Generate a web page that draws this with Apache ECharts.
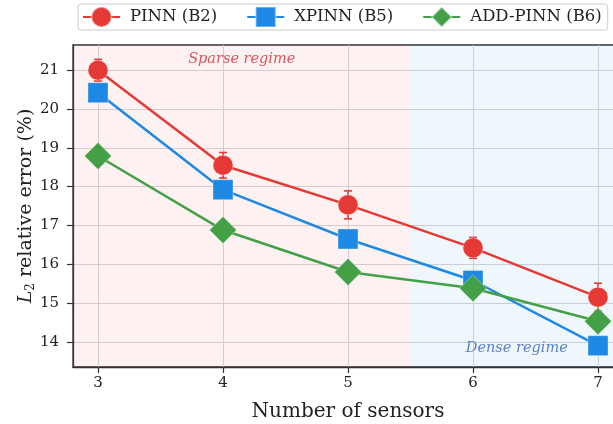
<!DOCTYPE html>
<html>
<head>
<meta charset="utf-8">
<script src="https://cdn.jsdelivr.net/npm/echarts@6/dist/echarts.min.js"></script>
<style>html,body{margin:0;padding:0;background:#fff}#c{width:613px;height:424px}</style>
</head>
<body>
<div id="c"></div>
<script>
var sensors = [3, 4, 5, 6, 7];
var pinn = [21.0, 18.55, 17.53, 16.42, 15.15];
var pinnErr = [0.28, 0.33, 0.36, 0.27, 0.36];
var xpinn = [20.42, 17.92, 16.65, 15.58, 13.9];
var addpinn = [18.79, 16.88, 15.80, 15.38, 14.53];
var xTicks = [3, 4, 5, 6, 7];
var yTicks = [14, 15, 16, 17, 18, 19, 20, 21];
var regimes = [{name: 'Sparse regime', from: 2.8, to: 5.5}, {name: 'Dense regime', from: 5.5, to: 7.2}];

var FONT = 'DejaVu Serif';
var RED = '#e53935', BLUE = '#1e88e5', GREEN = '#43a047';

function pts(vals) { return sensors.map(function (s, i) { return [s, vals[i]]; }); }

var chart = echarts.init(document.getElementById('c'));
chart.setOption({
  animation: false,
  textStyle: {fontFamily: FONT},
  grid: {left: 73, top: 45, height: 322, width: 550, containLabel: false, outerBoundsMode: 'none',
    show: true, borderColor: '#333', borderWidth: 1.3, backgroundColor: 'transparent'},
  legend: {
    data: ['PINN (B2)', 'XPINN (B5)', 'ADD-PINN (B6)'],
    left: 78, top: 4, padding: [2, 6, 2, 4],
    itemWidth: 37, itemHeight: 25, itemGap: 29,
    borderColor: '#ccc', borderWidth: 1, borderRadius: 3,
    textStyle: {fontFamily: FONT, fontSize: 16.5, color: '#222', padding: [0, 0, 0, 5]}
  },
  xAxis: {
    type: 'value', min: 2.8, max: 7.2,
    name: 'Number of sensors', nameLocation: 'middle', nameGap: 35, nameMoveOverlap: false,
    nameTextStyle: {fontFamily: FONT, fontSize: 20, color: '#222'},
    axisLine: {show: true, lineStyle: {color: '#333', width: 1.3}},
    axisTick: {show: true, customValues: xTicks, length: 6, lineStyle: {color: '#333', width: 1.2}},
    axisLabel: {customValues: xTicks, fontFamily: FONT, fontSize: 15, color: '#222', margin: 9},
    splitLine: {show: true, lineStyle: {color: '#d6d6d6', width: 1}}
  },
  yAxis: {
    type: 'value', min: 13.35, max: 21.65,
    name: '{i|L}{s|2} relative error (%)', nameLocation: 'middle', nameGap: 36, nameMoveOverlap: false,
    nameTextStyle: {fontFamily: FONT, fontSize: 19, color: '#222',
      rich: {i: {fontFamily: FONT, fontStyle: 'italic', fontSize: 19, color: '#222'},
             s: {fontFamily: FONT, fontSize: 12, color: '#222', verticalAlign: 'bottom', padding: [9, 0, 0, 0]}}},
    axisLine: {show: true, lineStyle: {color: '#333', width: 1.3}},
    axisTick: {show: true, customValues: yTicks, length: 6, lineStyle: {color: '#333', width: 1.2}},
    axisLabel: {customValues: yTicks, fontFamily: FONT, fontSize: 15, color: '#222', margin: 14},
    splitLine: {show: true, lineStyle: {color: '#d6d6d6', width: 1}}
  },
  series: [
    {
      type: 'line', name: 'bg', data: [], silent: true, z: 1,
      markArea: {
        silent: true,
        data: [
          [{xAxis: regimes[0].from, itemStyle: {color: 'rgba(229,57,53,0.07)'},
            label: {show: true, position: 'insideTop', distance: 7, formatter: regimes[0].name,
              fontFamily: FONT, fontStyle: 'italic', fontSize: 14.5, color: '#d9575c'}},
           {xAxis: regimes[0].to}],
          [{xAxis: regimes[1].from, itemStyle: {color: 'rgba(30,136,229,0.07)'},
            label: {show: true, position: 'insideBottom', distance: 11, formatter: regimes[1].name,
              fontFamily: FONT, fontStyle: 'italic', fontSize: 14.5, color: '#5a82c8'}},
           {xAxis: regimes[1].to}]
        ]
      }
    },
    {
      type: 'custom', name: 'PINN err', z: 3,
      data: sensors.map(function (s, i) { return [s, pinn[i], pinnErr[i]]; }),
      renderItem: function (params, api) {
        var x = api.value(0), y = api.value(1), e = api.value(2);
        var hi = api.coord([x, y + e]), lo = api.coord([x, y - e]);
        var cw = 4, st = {stroke: RED, lineWidth: 1.6};
        return {type: 'group', children: [
          {type: 'line', shape: {x1: hi[0], y1: hi[1], x2: lo[0], y2: lo[1]}, style: st},
          {type: 'line', shape: {x1: hi[0] - cw, y1: hi[1], x2: hi[0] + cw, y2: hi[1]}, style: st},
          {type: 'line', shape: {x1: lo[0] - cw, y1: lo[1], x2: lo[0] + cw, y2: lo[1]}, style: st}
        ]};
      }
    },
    {
      type: 'line', name: 'PINN (B2)', data: pts(pinn), z: 4,
      symbol: 'circle', symbolSize: 20, showAllSymbol: true,
      lineStyle: {color: RED, width: 2.5}, itemStyle: {color: RED, borderColor: 'rgba(255,255,255,0.35)', borderWidth: 1}
    },
    {
      type: 'line', name: 'XPINN (B5)', data: pts(xpinn), z: 5,
      symbol: 'rect', symbolSize: 20,
      lineStyle: {color: BLUE, width: 2.5}, itemStyle: {color: BLUE, borderColor: 'rgba(255,255,255,0.35)', borderWidth: 1}
    },
    {
      type: 'line', name: 'ADD-PINN (B6)', data: pts(addpinn), z: 6,
      symbol: 'diamond', symbolSize: 27,
      lineStyle: {color: GREEN, width: 2.5}, itemStyle: {color: GREEN, borderColor: 'rgba(255,255,255,0.35)', borderWidth: 1}
    }
  ]
});
</script>
</body>
</html>
